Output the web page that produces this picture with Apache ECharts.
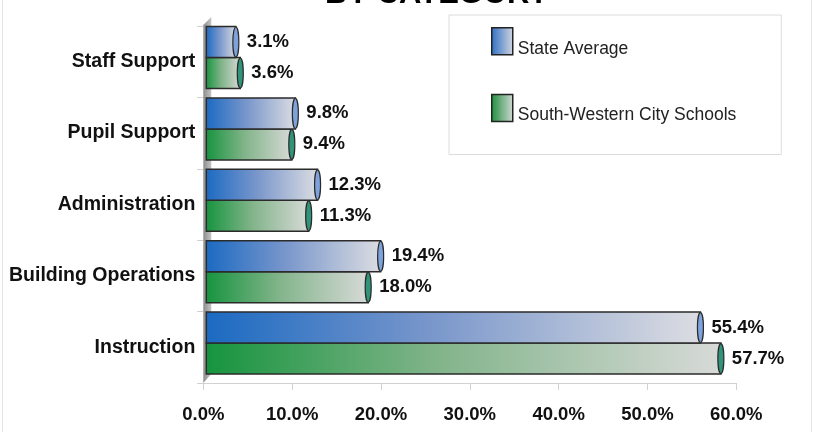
<!DOCTYPE html>
<html>
<head>
<meta charset="utf-8">
<script src="https://cdn.jsdelivr.net/npm/echarts@6/dist/echarts.min.js"></script>
<style>
  html, body { margin: 0; padding: 0; background: #fff; }
  #chart { width: 813px; height: 432px; }
</style>
</head>
<body>
<div id="chart"></div>
<script>
// Spending share by category (top to bottom)
const categories = ['Staff Support', 'Pupil Support', 'Administration', 'Building Operations', 'Instruction'];
const stateAverage = [3.1, 9.8, 12.3, 19.4, 55.4];
const southWestern = [3.6, 9.4, 11.3, 18.0, 57.7];
const seriesNames = ['State Average', 'South-Western City Schools'];
const xTicks = { min: 0, max: 60, interval: 10 };

const LABEL_FONT = 'Liberation Sans, Arial, sans-serif';

const blueFill = new echarts.graphic.LinearGradient(0, 0, 1, 0, [
  { offset: 0, color: '#1b6ac2' },
  { offset: 0.45, color: '#7896cb' },
  { offset: 1, color: '#dcdde2' }
]);
const greenFill = new echarts.graphic.LinearGradient(0, 0, 1, 0, [
  { offset: 0, color: '#16943e' },
  { offset: 0.45, color: '#82b48a' },
  { offset: 1, color: '#d8dad8' }
]);
const fills = [blueFill, greenFill];
const caps = ['#7da2dc', '#2f9479'];

// Cylinder-style bar: gradient body, elliptical cap at the value end
function makeRender(slot) {
  return function (params, api) {
    const val = api.value(0);
    const cat = api.value(1);
    const center = api.coord([0, cat]);
    const band = api.size([0, 1])[1];
    const zeroX = center[0];
    const endX = api.coord([val, cat])[0] + 5;
    const h = band * 0.434;
    const top = center[1] - band / 2 + 0.5 + slot * h;
    const startX = zeroX + 3;
    return {
      type: 'group',
      children: [
        {
          type: 'rect',
          shape: { x: startX, y: top, width: endX - startX, height: h },
          style: { fill: fills[slot], stroke: '#2b2b2b', lineWidth: 1.5 }
        },
        {
          type: 'ellipse',
          shape: { cx: endX, cy: top + h / 2, rx: 3, ry: h / 2 - 0.5 },
          style: { fill: caps[slot], stroke: '#2b2b2b', lineWidth: 1.2 }
        },
        {
          type: 'text',
          style: {
            x: endX + 11, y: top + h / 2,
            text: val.toFixed(1) + '%',
            fill: '#111',
            font: 'bold 18.5px ' + LABEL_FONT,
            textAlign: 'left', textVerticalAlign: 'middle'
          }
        }
      ]
    };
  };
}

const chart = echarts.init(document.getElementById('chart'), null, { renderer: 'canvas' });

const option = {
  animation: false,
  backgroundColor: '#fff',
  grid: { left: 203.3, right: 76.7, top: 26, bottom: 49 },
  legend: {
    orient: 'vertical',
    left: 449, top: 15,
    padding: [12, 45, 30, 42],
    itemWidth: 21, itemHeight: 27, itemGap: 36,
    borderColor: '#dcdcdc', borderWidth: 1,
    formatter: '{t|{name}}',
    textStyle: {
      rich: {
        t: { fontFamily: LABEL_FONT, fontSize: 17.5, color: '#222', padding: [15, 0, 0, 0] }
      }
    },
    data: [
      { name: seriesNames[0], icon: 'rect', itemStyle: { color: new echarts.graphic.LinearGradient(0, 0, 1, 0, [{ offset: 0, color: '#2d6fc4' }, { offset: 1, color: '#d4d6e0' }]), borderColor: '#222', borderWidth: 1.5 } },
      { name: seriesNames[1], icon: 'rect', itemStyle: { color: new echarts.graphic.LinearGradient(0, 0, 1, 0, [{ offset: 0, color: '#1c8f3c' }, { offset: 1, color: '#d4d8d4' }]), borderColor: '#222', borderWidth: 1.5 } }
    ]
  },
  xAxis: {
    type: 'value',
    min: xTicks.min, max: xTicks.max, interval: xTicks.interval,
    splitLine: { show: false },
    axisLine: { show: true, lineStyle: { color: '#d2d2d2', width: 1 } },
    axisTick: { show: true, length: 7, lineStyle: { color: '#d2d2d2' } },
    axisLabel: {
      margin: 22,
      color: '#111', fontFamily: LABEL_FONT, fontWeight: 'bold', fontSize: 18.5,
      formatter: v => v.toFixed(1) + '%'
    }
  },
  yAxis: {
    type: 'category',
    data: categories,
    inverse: true,
    axisLine: { show: false },
    axisTick: { show: true, length: 6, lineStyle: { color: '#cfcfcf' } },
    axisLabel: {
      margin: 8,
      padding: [6, 0, 0, 0],
      color: '#111', fontFamily: LABEL_FONT, fontWeight: 'bold', fontSize: 19.5
    }
  },
  series: [
    {
      name: seriesNames[0], type: 'custom', renderItem: makeRender(0),
      itemStyle: { color: '#2d6fc4' },
      encode: { x: 0, y: 1 },
      data: stateAverage.map((v, i) => [v, i]), z: 3
    },
    {
      name: seriesNames[1], type: 'custom', renderItem: makeRender(1),
      itemStyle: { color: '#1c8f3c' },
      encode: { x: 0, y: 1 },
      data: southWestern.map((v, i) => [v, i]), z: 2
    }
  ]
};
chart.setOption(option);

// Side wall of the 3-D plot area, title and outer frame
const x0 = chart.convertToPixel({ xAxisIndex: 0 }, 0);
const gTop = 26, gBottom = 432 - 49;
chart.setOption({
  graphic: [
    {
      type: 'polygon', z: 1,
      shape: { points: [[x0, gTop - 1], [x0 + 8, gTop - 9], [x0 + 8, gBottom - 9], [x0, gBottom]] },
      style: { fill: new echarts.graphic.LinearGradient(0, 0, 1, 0, [{ offset: 0, color: '#8c8c8c' }, { offset: 1, color: '#c4c4c4' }]) }
    },
    {
      type: 'text', z: 5,
      style: {
        x: 437, y: -6, text: 'BY CATEGORY',
        font: 'bold 31px ' + LABEL_FONT, fill: '#000',
        textAlign: 'center', textVerticalAlign: 'middle'
      }
    },
    { type: 'line', shape: { x1: 2.5, y1: 0, x2: 2.5, y2: 432 }, style: { stroke: '#e4e4e4', lineWidth: 1 } },
    { type: 'line', shape: { x1: 811.5, y1: 0, x2: 811.5, y2: 432 }, style: { stroke: '#e4e4e4', lineWidth: 1 } }
  ]
});
</script>
</body>
</html>
